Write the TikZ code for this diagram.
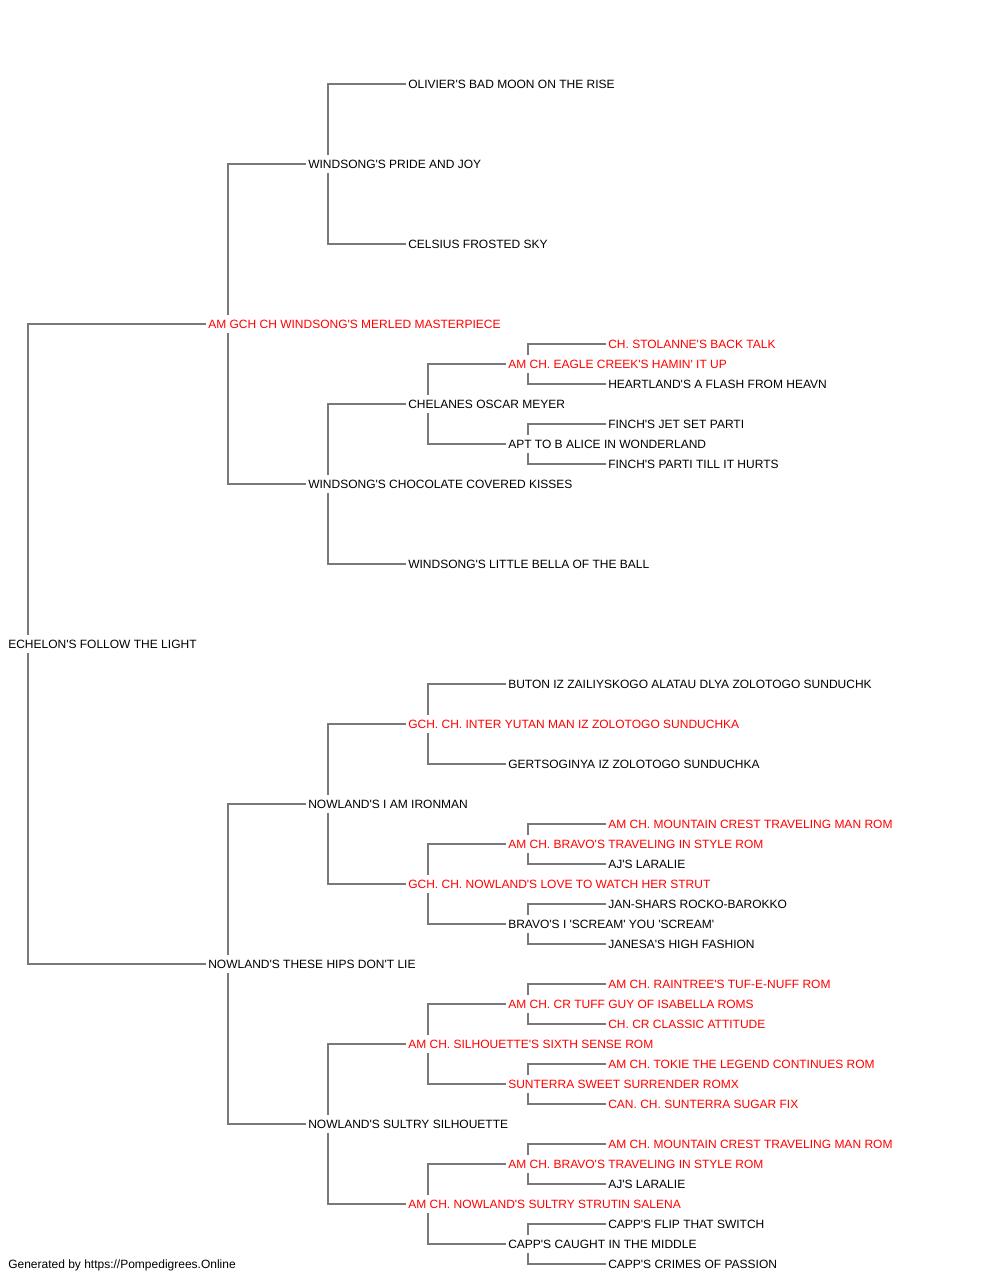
\documentclass[tikz,border=0pt]{standalone}
\usepackage{fontspec}
\newfontfamily\pedfont{Liberation Sans}
\usetikzlibrary{backgrounds}
\tikzset{
  dog/.style={anchor=west, fill=white, inner xsep=1.5pt, inner ysep=0pt,
    minimum height=13.5pt, text height=7.4pt, text depth=1pt,
    font=\pedfont\fontsize{9pt}{11pt}\selectfont},
  titled/.style={dog, text=red},
  link/.style={draw=gray!95!black, line width=1.2pt}
}
\begin{document}
\begin{tikzpicture}[x=0.75pt,y=-0.75pt]
      \useasboundingbox (0,0) rectangle (1000,1280);
      \draw
        (6,644) node[dog] (e){ECHELON'S FOLLOW THE LIGHT}
        (206,324) node[titled] (s){AM GCH CH WINDSONG'S MERLED MASTERPIECE}
        (206,964) node[dog] (d){NOWLAND'S THESE HIPS DON'T LIE}
        (306,164) node[dog] (ss){WINDSONG'S PRIDE AND JOY}
        (306,484) node[dog] (sd){WINDSONG'S CHOCOLATE COVERED KISSES}
        (306,804) node[dog] (ds){NOWLAND'S I AM IRONMAN}
        (306,1124) node[dog] (dd){NOWLAND'S SULTRY SILHOUETTE}
        (406,84) node[dog] (sss){OLIVIER'S BAD MOON ON THE RISE}
        (406,244) node[dog] (ssd){CELSIUS FROSTED SKY}
        (406,404) node[dog] (sds){CHELANES OSCAR MEYER}
        (406,564) node[dog] (sdd){WINDSONG'S LITTLE BELLA OF THE BALL}
        (406,724) node[titled] (dss){GCH. CH. INTER YUTAN MAN IZ ZOLOTOGO SUNDUCHKA}
        (406,884) node[titled] (dsd){GCH. CH. NOWLAND'S LOVE TO WATCH HER STRUT}
        (406,1044) node[titled] (dds){AM CH. SILHOUETTE'S SIXTH SENSE ROM}
        (406,1204) node[titled] (ddd){AM CH. NOWLAND'S SULTRY STRUTIN SALENA}
        (506,364) node[titled] (sdss){AM CH. EAGLE CREEK'S HAMIN' IT UP}
        (506,444) node[dog] (sdsd){APT TO B ALICE IN WONDERLAND}
        (506,684) node[dog] (dsss){BUTON IZ ZAILIYSKOGO ALATAU DLYA ZOLOTOGO SUNDUCHK}
        (506,764) node[dog] (dssd){GERTSOGINYA IZ ZOLOTOGO SUNDUCHKA}
        (506,844) node[titled] (dsds){AM CH. BRAVO'S TRAVELING IN STYLE ROM}
        (506,924) node[dog] (dsdd){BRAVO'S I 'SCREAM' YOU 'SCREAM'}
        (506,1004) node[titled] (ddss){AM CH. CR TUFF GUY OF ISABELLA ROMS}
        (506,1084) node[titled] (ddsd){SUNTERRA SWEET SURRENDER ROMX}
        (506,1164) node[titled] (ddds){AM CH. BRAVO'S TRAVELING IN STYLE ROM}
        (506,1244) node[dog] (dddd){CAPP'S CAUGHT IN THE MIDDLE}
        (606,344) node[titled] (sdsss){CH. STOLANNE'S BACK TALK}
        (606,384) node[dog] (sdssd){HEARTLAND'S A FLASH FROM HEAVN}
        (606,424) node[dog] (sdsds){FINCH'S JET SET PARTI}
        (606,464) node[dog] (sdsdd){FINCH'S PARTI TILL IT HURTS}
        (606,824) node[titled] (dsdss){AM CH. MOUNTAIN CREST TRAVELING MAN ROM}
        (606,864) node[dog] (dsdsd){AJ'S LARALIE}
        (606,904) node[dog] (dsdds){JAN-SHARS ROCKO-BAROKKO}
        (606,944) node[dog] (dsddd){JANESA'S HIGH FASHION}
        (606,984) node[titled] (ddsss){AM CH. RAINTREE'S TUF-E-NUFF ROM}
        (606,1024) node[titled] (ddssd){CH. CR CLASSIC ATTITUDE}
        (606,1064) node[titled] (ddsds){AM CH. TOKIE THE LEGEND CONTINUES ROM}
        (606,1104) node[titled] (ddsdd){CAN. CH. SUNTERRA SUGAR FIX}
        (606,1144) node[titled] (dddss){AM CH. MOUNTAIN CREST TRAVELING MAN ROM}
        (606,1184) node[dog] (dddsd){AJ'S LARALIE}
        (606,1224) node[dog] (dddds){CAPP'S FLIP THAT SWITCH}
        (606,1264) node[dog] (ddddd){CAPP'S CRIMES OF PASSION}
        (6,1264) node[dog] (foot){Generated by https://Pompedigrees.Online};
      \begin{scope}[on background layer]
      \begin{scope}[link]
        \draw (s.west) -| ([xshift=16.5pt]e.west) |- (d.west);
        \draw (ss.west) -| ([xshift=16.5pt]s.west) |- (sd.west);
        \draw (ds.west) -| ([xshift=16.5pt]d.west) |- (dd.west);
        \draw (sss.west) -| ([xshift=16.5pt]ss.west) |- (ssd.west);
        \draw (sds.west) -| ([xshift=16.5pt]sd.west) |- (sdd.west);
        \draw (dss.west) -| ([xshift=16.5pt]ds.west) |- (dsd.west);
        \draw (dds.west) -| ([xshift=16.5pt]dd.west) |- (ddd.west);
        \draw (sdss.west) -| ([xshift=16.5pt]sds.west) |- (sdsd.west);
        \draw (dsss.west) -| ([xshift=16.5pt]dss.west) |- (dssd.west);
        \draw (dsds.west) -| ([xshift=16.5pt]dsd.west) |- (dsdd.west);
        \draw (ddss.west) -| ([xshift=16.5pt]dds.west) |- (ddsd.west);
        \draw (ddds.west) -| ([xshift=16.5pt]ddd.west) |- (dddd.west);
        \draw (sdsss.west) -| ([xshift=16.5pt]sdss.west) |- (sdssd.west);
        \draw (sdsds.west) -| ([xshift=16.5pt]sdsd.west) |- (sdsdd.west);
        \draw (dsdss.west) -| ([xshift=16.5pt]dsds.west) |- (dsdsd.west);
        \draw (dsdds.west) -| ([xshift=16.5pt]dsdd.west) |- (dsddd.west);
        \draw (ddsss.west) -| ([xshift=16.5pt]ddss.west) |- (ddssd.west);
        \draw (ddsds.west) -| ([xshift=16.5pt]ddsd.west) |- (ddsdd.west);
        \draw (dddss.west) -| ([xshift=16.5pt]ddds.west) |- (dddsd.west);
        \draw (dddds.west) -| ([xshift=16.5pt]dddd.west) |- (ddddd.west);
      \end{scope}
      \end{scope}
    \end{tikzpicture}
\end{document}
